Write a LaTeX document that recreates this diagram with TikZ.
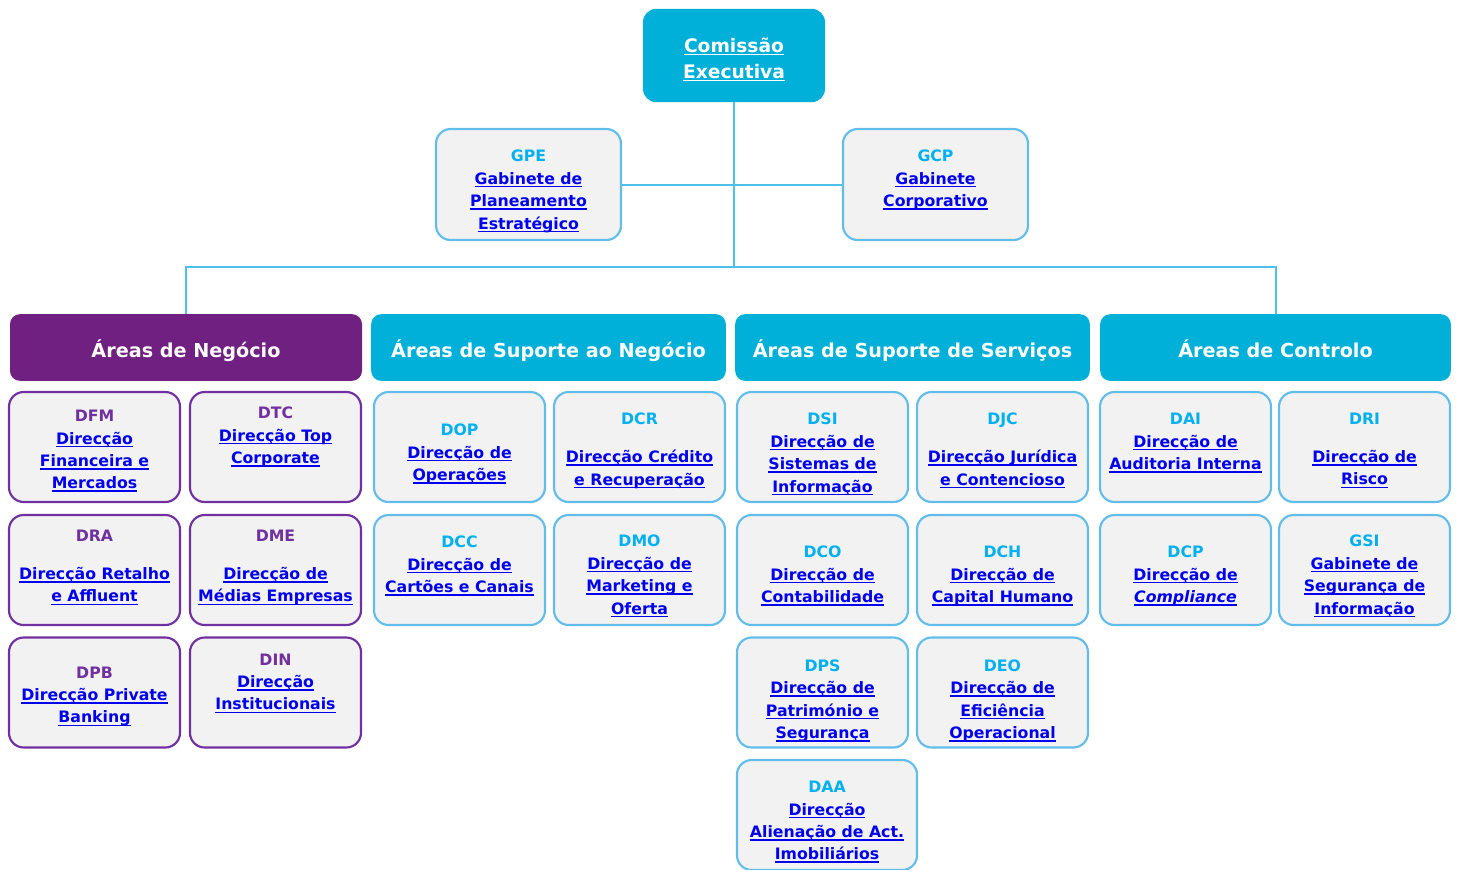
\documentclass[tikz,border=0pt]{standalone}
\usepackage{fontspec}
\setmainfont{DejaVu Sans}
\usetikzlibrary{positioning}
\definecolor{ceblue}{RGB}{0,176,216}
\definecolor{negpurple}{RGB}{112,32,128}
\definecolor{codepurple}{RGB}{112,48,160}
\definecolor{codecyan}{RGB}{0,176,240}
\definecolor{linkblue}{RGB}{0,0,238}
\definecolor{boxgray}{RGB}{242,242,242}
\definecolor{edgeblue}{RGB}{98,189,235}
\definecolor{wireblue}{RGB}{79,193,233}
\newsavebox{\ulbox}
\newcommand{\ulk}[1]{\sbox{\ulbox}{#1}\rlap{\rule[-2.3pt]{\wd\ulbox}{1.1pt}}\usebox{\ulbox}}
\newcommand{\cy}[1]{\textcolor{codecyan}{#1}}
\newcommand{\pu}[1]{\textcolor{codepurple}{#1}}
\tikzset{
  wire/.style={draw=wireblue, line width=1.5pt},
  topbox/.style={fill=ceblue, rounded corners=10pt, minimum width=136.5pt, minimum height=70pt},
  toptext/.style={text=white, align=center, inner sep=0pt, font=\fontsize{14}{19.5}\selectfont\bfseries},
  areahead/.style={fill=#1, rounded corners=7.5pt, minimum width=264pt, minimum height=50pt,
    text=white, text height=15.4pt, text depth=0pt, font=\fontsize{14.4}{17}\selectfont\bfseries},
  unitbox/.style={draw=#1, fill=boxgray, line width=1.6pt, rounded corners=11pt,
    minimum width=128.25pt, minimum height=82.5pt, inner sep=0pt},
  unittext/.style={align=center, inner sep=0pt, text=linkblue,
    font=\fontsize{11.8}{16.8}\selectfont\bfseries}
}

\begin{document}
\begin{tikzpicture}[x=0.75pt, y=-0.75pt]
    \clip (0,0) rectangle (1458,869);

    % top of the tree
    \node[topbox] (ce) at (734,55.5) {};
    \node[toptext] (cet) at ([yshift=-3pt]ce.center) {\ulk{Comissão}\\\ulk{Executiva}};
    \node[unitbox=edgeblue, minimum width=138.75pt, minimum height=83.25pt] (gpe) at (528.5,184.5) {};
    \node[unitbox=edgeblue, minimum width=138.75pt, minimum height=83.25pt] (gcp) at (935.5,184.5) {};
    \node[unittext, below=16.5pt of gpe.north] (gpet) {\cy{GPE}\\\ulk{Gabinete de}\\\ulk{Planeamento}\\\ulk{Estratégico}};
    \node[unittext, below=16.5pt of gcp.north] (gcpt) {\cy{GCP}\\\ulk{Gabinete}\\\ulk{Corporativo}};

    % area headers
    \node[areahead=negpurple] (an) at (186,347.5) {Áreas de Negócio};
    \node[areahead=ceblue, minimum width=266pt] (asn) at (548.5,347.5) {Áreas de Suporte ao Negócio};
    \node[areahead=ceblue, minimum width=266pt] (ass) at (912.5,347.5) {Áreas de Suporte de Serviços};
    \node[areahead=ceblue, minimum width=263pt] (ac) at (1275.5,347.5) {Áreas de Controlo};

    % connectors
    \coordinate (bus) at (734,267);
    \draw[wire] (ce.south) -- (bus);
    \draw[wire] (gpe.east) -- (gcp.west);
    \draw[wire] (an.north) |- (bus) -| (ac.north);

    % Areas de Negocio
    \node[unitbox=codepurple] (dfm) at (94.5,447) {};
    \node[unitbox=codepurple] (dtc) at (275.5,447) {};
    \node[unitbox=codepurple] (dra) at (94.5,570) {};
    \node[unitbox=codepurple] (dme) at (275.5,570) {};
    \node[unitbox=codepurple] (dpb) at (94.5,692.5) {};
    \node[unitbox=codepurple] (din) at (275.5,692.5) {};
    \node[unittext, below=14.25pt of dfm.north] (dfmt) {\pu{DFM}\\\ulk{Direcção}\\\ulk{Financeira e}\\\ulk{Mercados}};
    \node[unittext, below=12pt of dtc.north] (dtct) {\pu{DTC}\\\ulk{Direcção Top}\\\ulk{Corporate}};
    \node[unittext, below=12pt of dra.north] (drat) {\pu{DRA}\\[11.6pt]\ulk{Direcção Retalho}\\\ulk{e Affluent}};
    \node[unittext, below=12pt of dme.north] (dmet) {\pu{DME}\\[11.6pt]\ulk{Direcção de}\\\ulk{Médias Empresas}};
    \node[unittext, below=22.5pt of dpb.north] (dpbt) {\pu{DPB}\\\ulk{Direcção Private}\\\ulk{Banking}};
    \node[unittext, below=12.75pt of din.north] (dint) {\pu{DIN}\\\ulk{Direcção}\\\ulk{Institucionais}};

    % Areas de Suporte ao Negocio
    \node[unitbox=edgeblue] (dop) at (459.5,447) {};
    \node[unitbox=edgeblue] (dcr) at (639.5,447) {};
    \node[unitbox=edgeblue] (dcc) at (459.5,570) {};
    \node[unitbox=edgeblue] (dmo) at (639.5,570) {};
    \node[unittext, below=24.75pt of dop.north] (dopt) {\cy{DOP}\\\ulk{Direcção de}\\\ulk{Operações}};
    \node[unittext, below=16.5pt of dcr.north] (dcrt) {\cy{DCR}\\[11.6pt]\ulk{Direcção Crédito}\\\ulk{e Recuperação}};
    \node[unittext, below=16.5pt of dcc.north] (dcct) {\cy{DCC}\\\ulk{Direcção de}\\\ulk{Cartões e Canais}};
    \node[unittext, below=15.75pt of dmo.north] (dmot) {\cy{DMO}\\\ulk{Direcção de}\\\ulk{Marketing e}\\\ulk{Oferta}};

    % Areas de Suporte de Servicos
    \node[unitbox=edgeblue] (dsi) at (822.5,447) {};
    \node[unitbox=edgeblue] (djc) at (1002.5,447) {};
    \node[unitbox=edgeblue] (dco) at (822.5,570) {};
    \node[unitbox=edgeblue] (dch) at (1002.5,570) {};
    \node[unitbox=edgeblue] (dps) at (822.5,692.5) {};
    \node[unitbox=edgeblue] (deo) at (1002.5,692.5) {};
    \node[unitbox=edgeblue, minimum width=135pt] (daa) at (827,815) {};
    \node[unittext, below=16.5pt of dsi.north] (dsit) {\cy{DSI}\\\ulk{Direcção de}\\\ulk{Sistemas de}\\\ulk{Informação}};
    \node[unittext, below=16.5pt of djc.north] (djct) {\cy{DJC}\\[11.6pt]\ulk{Direcção Jurídica}\\\ulk{e Contencioso}};
    \node[unittext, below=24pt of dco.north] (dcot) {\cy{DCO}\\\ulk{Direcção de}\\\ulk{Contabilidade}};
    \node[unittext, below=24pt of dch.north] (dcht) {\cy{DCH}\\\ulk{Direcção de}\\\ulk{Capital Humano}};
    \node[unittext, below=17.25pt of dps.north] (dpst) {\cy{DPS}\\\ulk{Direcção de}\\\ulk{Património e}\\\ulk{Segurança}};
    \node[unittext, below=17.25pt of deo.north] (deot) {\cy{DEO}\\\ulk{Direcção de}\\\ulk{Eficiência}\\\ulk{Operacional}};
    \node[unittext, below=16.5pt of daa.north] (daat) {\cy{DAA}\\\ulk{Direcção}\\\ulk{Alienação de Act.}\\\ulk{Imobiliários}};

    % Areas de Controlo
    \node[unitbox=edgeblue] (dai) at (1185.5,447) {};
    \node[unitbox=edgeblue] (dri) at (1364.5,447) {};
    \node[unitbox=edgeblue] (dcp) at (1185.5,570) {};
    \node[unitbox=edgeblue] (gsi) at (1364.5,570) {};
    \node[unittext, below=16.5pt of dai.north] (dait) {\cy{DAI}\\\ulk{Direcção de}\\\ulk{Auditoria Interna}};
    \node[unittext, below=16.5pt of dri.north] (drit) {\cy{DRI}\\[11.6pt]\ulk{Direcção de}\\\ulk{Risco}};
    \node[unittext, below=24pt of dcp.north] (dcpt) {\cy{DCP}\\\ulk{Direcção de}\\\ulk{\itshape Compliance}};
    \node[unittext, below=15.75pt of gsi.north] (gsit) {\cy{GSI}\\\ulk{Gabinete de}\\\ulk{Segurança de}\\\ulk{Informação}};
\end{tikzpicture}
\end{document}
